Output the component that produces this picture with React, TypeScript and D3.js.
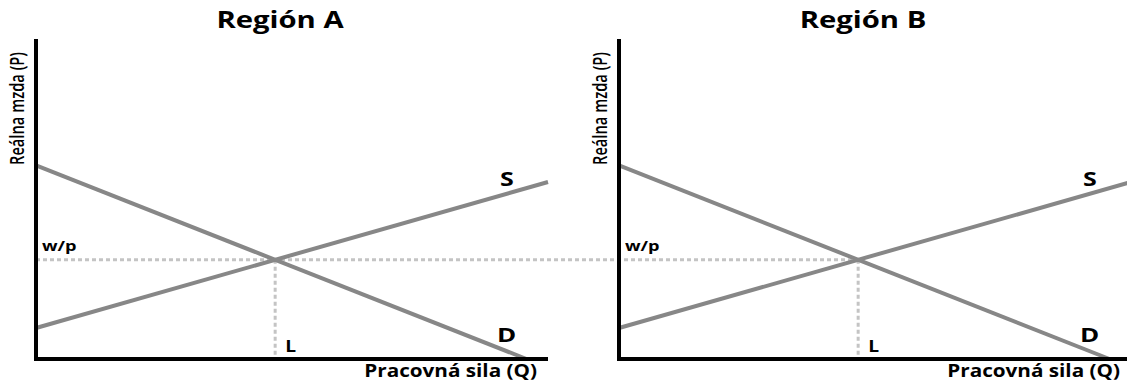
import React from "react";
import * as d3 from "d3";

// ---- data ----
const panelTitles = ["Región A", "Región B"];
const demandLine: [number, number][] = [[0, 6.05], [9.58, 0]];
const supplyLine: [number, number][] = [[0, 0.97], [10, 5.53]];
const curveLabels = ["S", "D"];
const wageLabel = "w/p";
const laborLabel = "L";
const yAxisTitle = "Reálna mzda (P)";
const xAxisTitle = "Pracovná sila (Q)";
const domainX: [number, number] = [0, 10];
const domainY: [number, number] = [0, 10];

const W = 1127;
const H = 383;
const FONT = "'Open Sans', 'DejaVu Sans', sans-serif";
const LINE_COLOR = "#878787";
const DOT_COLOR = "#c4c4c4";

function intersect(a: [number, number][], b: [number, number][]) {
  const ma = (a[1][1] - a[0][1]) / (a[1][0] - a[0][0]);
  const ba = a[0][1] - ma * a[0][0];
  const mb = (b[1][1] - b[0][1]) / (b[1][0] - b[0][0]);
  const bb = b[0][1] - mb * b[0][0];
  const x = (bb - ba) / (ma - mb);
  return [x, ma * x + ba] as [number, number];
}

function SText(props: {
  x: number;
  y: number;
  k: number;
  size: number;
  anchor?: string;
  weight?: number;
  children: React.ReactNode;
}) {
  const { x, y, k, size, anchor = "start", weight = 700, children } = props;
  return (
    <text
      transform={`translate(${x},${y}) scale(${k},1)`}
      textAnchor={anchor}
      fontSize={size}
      fontWeight={weight}
      fill="#000"
    >
      {children}
    </text>
  );
}

export default function App() {
  const offsets = [36, 619];
  const plotW = 512;
  const y = d3.scaleLinear().domain(domainY).range([359, 39]);
  const xs = offsets.map((o) => d3.scaleLinear().domain(domainX).range([o, o + plotW]));
  const eq = intersect(demandLine, supplyLine);
  const line = (sx: d3.ScaleLinear<number, number>) =>
    d3.line<[number, number]>().x((d) => sx(d[0])).y((d) => y(d[1]));

  return (
    <svg
      width={W}
      height={H}
      style={{ position: "absolute", left: 0, top: 0, background: "#fff" }}
      fontFamily={FONT}
    >
      <line
        x1={xs[0](0)}
        x2={xs[1](eq[0])}
        y1={y(eq[1])}
        y2={y(eq[1])}
        stroke={DOT_COLOR}
        strokeWidth={3}
        strokeDasharray="4,3"
      />
      {panelTitles.map((title, i) => {
        const sx = xs[i];
        const ln = line(sx);
        return (
          <g key={title}>
            <line
              x1={sx(eq[0])}
              x2={sx(eq[0])}
              y1={y(eq[1])}
              y2={y(0)}
              stroke={DOT_COLOR}
              strokeWidth={3}
              strokeDasharray="4,3"
            />
            <path d={ln(demandLine) || ""} fill="none" stroke={LINE_COLOR} strokeWidth={4} />
            <path d={ln(supplyLine) || ""} fill="none" stroke={LINE_COLOR} strokeWidth={4} />
            <path
              d={`M${sx(0)},${y(10)}V${y(0)}H${sx(10)}`}
              fill="none"
              stroke="#000"
              strokeWidth={4}
            />
            <SText x={sx(0) + 244} y={28} k={1.22} size={24} anchor="middle">
              {title}
            </SText>
            <text
              transform={`translate(${sx(0) - 12},${108.5}) rotate(-90)`}
              textAnchor="middle"
              fontSize={19}
              fontWeight={600}
              textLength={113}
              lengthAdjust="spacingAndGlyphs"
            >
              {yAxisTitle}
            </text>
            <SText x={sx(10) - 11} y={377} k={1.15} size={18} anchor="end">
              {xAxisTitle}
            </SText>
            <SText x={sx(10) - 48} y={186} k={1.25} size={20}>
              {curveLabels[0]}
            </SText>
            <SText x={sx(10) - 51} y={342} k={1.3} size={20}>
              {curveLabels[1]}
            </SText>
            <SText x={sx(0) + 6} y={251} k={1.3} size={14}>
              {wageLabel}
            </SText>
            <SText x={sx(eq[0]) + 10} y={352} k={1.2} size={16}>
              {laborLabel}
            </SText>
          </g>
        );
      })}
    </svg>
  );
}
